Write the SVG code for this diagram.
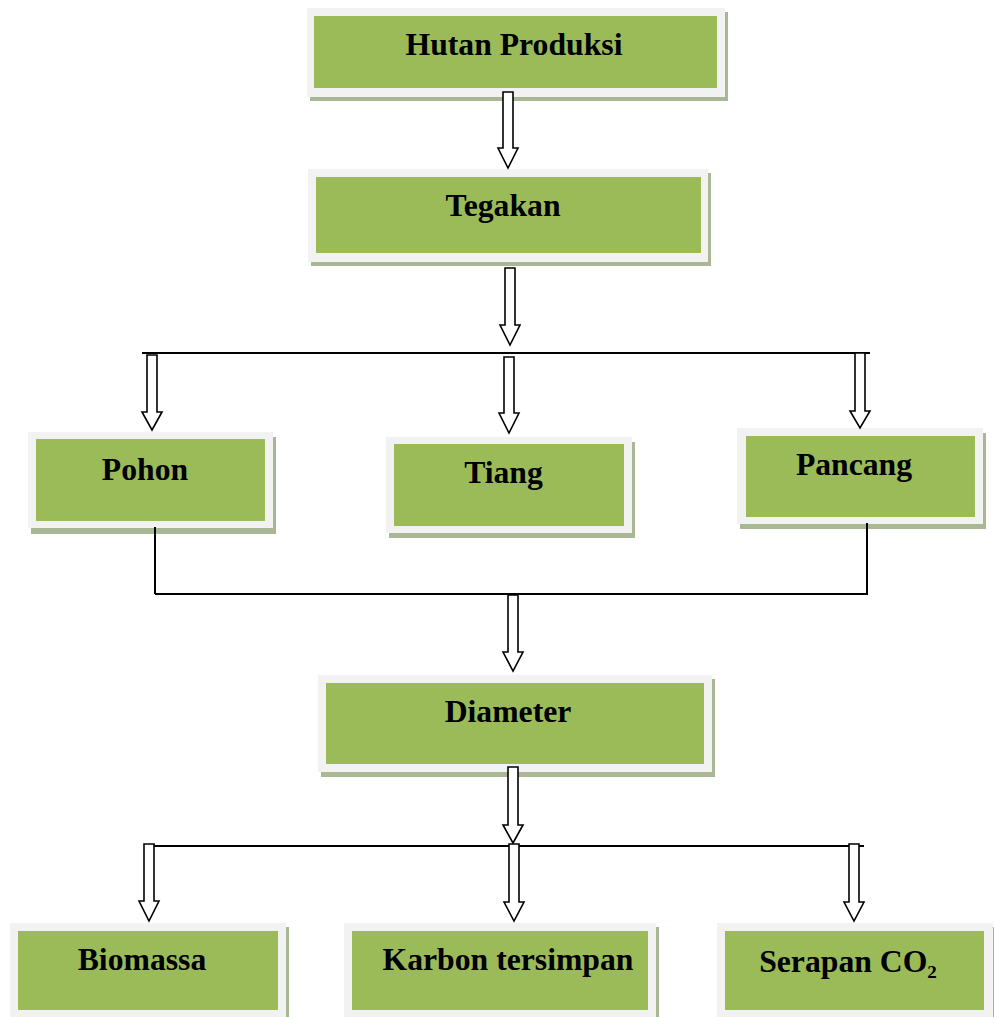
<svg xmlns="http://www.w3.org/2000/svg" width="994" height="1017" viewBox="0 0 994 1017">
<style>
.sh{fill:#aab795}
.out{fill:#f2f2f2}
.in{fill:#9bbb59}
.t{font-family:"Liberation Serif","Times New Roman",serif;font-weight:bold;font-size:31.7px;fill:#000;text-anchor:middle}
.ln{stroke:#000;stroke-width:2;fill:none}
.ar{fill:#fff;stroke:#000;stroke-width:1.6;stroke-linejoin:miter}
</style>
<rect width="994" height="1017" fill="#fff"/>
<g id="hutan">
<rect class="sh" x="310" y="12" width="418" height="89"/>
<rect class="out" x="307" y="8" width="418" height="89"/>
<rect class="in" x="314" y="16" width="403" height="72"/>
<text class="t" x="514" y="55">Hutan Produksi</text>
</g>
<g id="tegakan">
<rect class="sh" x="311" y="173" width="400" height="93"/>
<rect class="out" x="308" y="169" width="400" height="93"/>
<rect class="in" x="316" y="177" width="385" height="76"/>
<text class="t" x="503" y="216">Tegakan</text>
</g>
<g id="pohon">
<rect class="sh" x="31" y="437" width="245" height="97"/>
<rect class="out" x="28" y="432" width="245" height="96"/>
<rect class="in" x="36" y="439" width="229" height="82"/>
<text class="t" x="145" y="480">Pohon</text>
</g>
<g id="tiang">
<rect class="sh" x="389" y="442" width="246" height="96"/>
<rect class="out" x="386" y="437" width="246" height="96"/>
<rect class="in" x="394" y="444" width="230" height="82"/>
<text class="t" x="503.5" y="483">Tiang</text>
</g>
<g id="pancang">
<rect class="sh" x="740" y="433" width="246" height="96"/>
<rect class="out" x="737" y="428" width="246" height="96"/>
<rect class="in" x="746" y="436" width="229" height="81"/>
<text class="t" x="854" y="475">Pancang</text>
</g>
<g id="diameter">
<rect class="sh" x="321" y="679" width="394" height="98"/>
<rect class="out" x="318" y="675" width="394" height="97"/>
<rect class="in" x="326" y="683" width="378" height="81"/>
<text class="t" x="508" y="722">Diameter</text>
</g>
<g id="biomassa">
<rect class="sh" x="13" y="927" width="276" height="94"/>
<rect class="out" x="10" y="923" width="276" height="94"/>
<rect class="in" x="18" y="931" width="260" height="79"/>
<text class="t" x="142" y="970">Biomassa</text>
</g>
<g id="karbon">
<rect class="sh" x="347" y="927" width="312" height="94"/>
<rect class="out" x="344" y="923" width="312" height="94"/>
<rect class="in" x="352" y="931" width="296" height="79"/>
<text class="t" x="508" y="970">Karbon tersimpan</text>
</g>
<g id="serapan">
<rect class="sh" x="720" y="927" width="276" height="94"/>
<rect class="out" x="717" y="923" width="276" height="94"/>
<rect class="in" x="725" y="931" width="259" height="79"/>
<text class="t" x="848" y="972">Serapan CO₂</text>
</g>
<g id="connectors">
<path class="ln" d="M142,353 H870"/>
<path class="ln" d="M155,527 V594 M867,523 V595 M155,594 H866"/>
<path class="ln" d="M153,846 H864"/>
<path class="ar" d="M503,92 H513 V148 H518 L508,168 L498,148 H503 Z"/>
<path class="ar" d="M505,268 H515 V325 H520 L510,345 L500,325 H505 Z"/>
<path class="ar" d="M147,355 H157 V412 H162 L152,430 L142,412 H147 Z"/>
<path class="ar" d="M504,357 H514 V413 H519 L509,433 L499,413 H504 Z"/>
<path class="ar" d="M855,353 H865 V411 H870 L860,428 L850,411 H855 Z"/>
<path class="ar" d="M508,595 H518 V652 H523 L513,671 L503,652 H508 Z"/>
<path class="ar" d="M508,767 H518 V825 H523 L513,843 L503,825 H508 Z"/>
<path class="ar" d="M144,844 H154 V901 H159 L149,921 L139,901 H144 Z"/>
<path class="ar" d="M509,844 H519 V902 H524 L514,921 L504,902 H509 Z"/>
<path class="ar" d="M849,844 H859 V902 H864 L854,921 L844,902 H849 Z"/>
</g>
</svg>
